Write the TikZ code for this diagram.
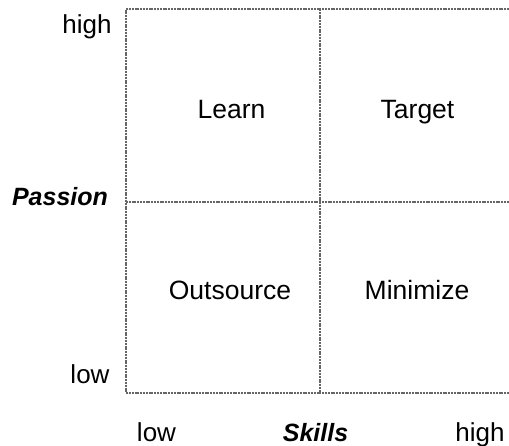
\documentclass[tikz,border=0pt]{standalone}
\usepackage{fontspec}
\setmainfont{Liberation Sans}
\begin{document}
\begin{tikzpicture}[x=1pt,y=-1pt,
  gridline/.style={draw=black!60,line width=2pt,dash pattern=on 2pt off 0.8pt},
  quad/.style={anchor=base,inner sep=0pt,font=\fontsize{26.5}{30}\selectfont},
  tick/.style={anchor=base,inner sep=0pt,font=\fontsize{26}{30}\selectfont},
  axis/.style={anchor=base,inner sep=0pt,font=\fontsize{25}{30}\selectfont\bfseries\itshape}]
\useasboundingbox (0,0) rectangle (509,445);
% grid corners and midpoints
\coordinate (tl) at (126,9);
\coordinate (tr) at (509,9);
\coordinate (bl) at (126,393);
\coordinate (br) at (509,393);
\coordinate (ml) at (126,202);
\coordinate (mr) at (509,202);
\coordinate (mt) at (320,9);
\coordinate (mb) at (320,393);
\draw[gridline] (tr) -- (tl) -- (bl) -- (br);
\draw[gridline] (ml) -- (mr);
\draw[gridline] (mt) -- (mb);
% quadrant labels
\node[quad] (learn) at (231.5,118) {Learn};
\node[quad] (target) at (417.5,118) {Target};
\node[quad] (outsource) at (230,299) {Outsource};
\node[quad] (minimize) at (417,299) {Minimize};
% vertical axis
\node[tick] (yhigh) at (87,33) {high};
\node[axis] (passion) at (60,205) {Passion};
\node[tick] (ylow) at (90,383) {low};
% horizontal axis
\node[tick] (xlow) at (156.5,441) {low};
\node[axis] (skills) at (315.5,441) {Skills};
\node[tick] (xhigh) at (480,441) {high};
\end{tikzpicture}
\end{document}
